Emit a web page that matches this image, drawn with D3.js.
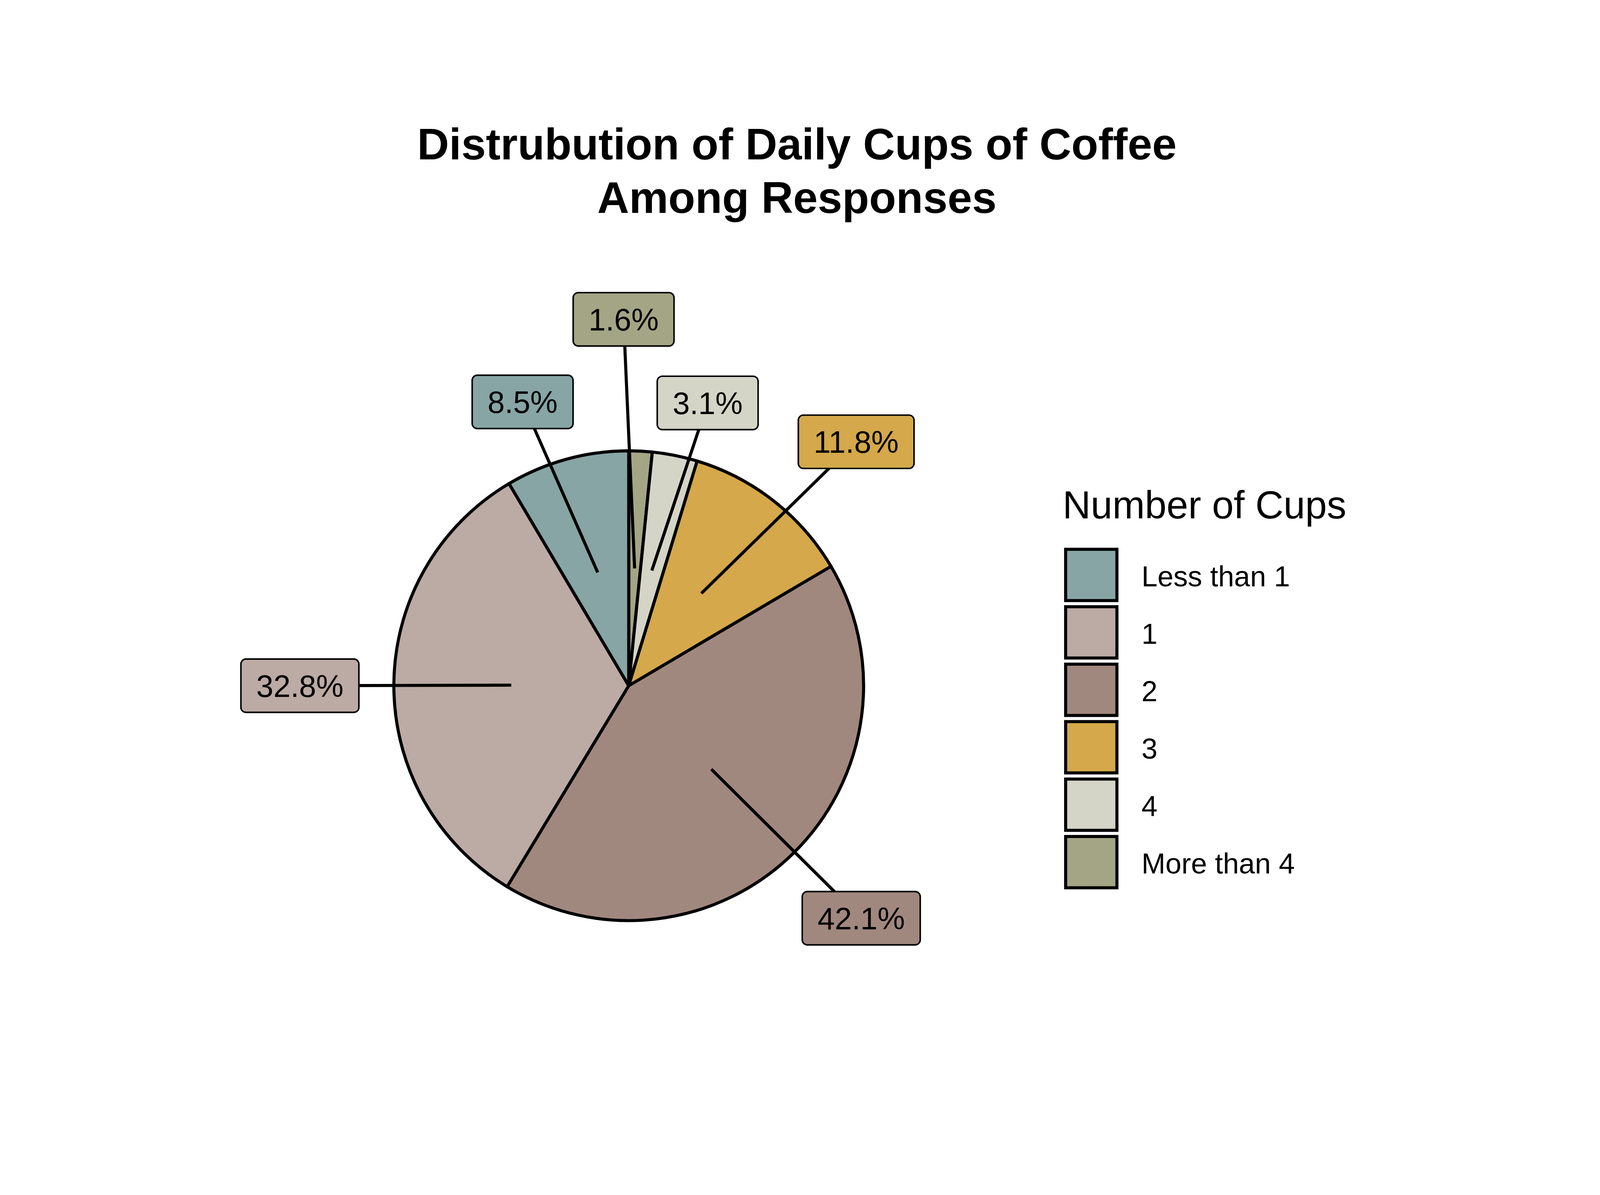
<!DOCTYPE html>
<html>
<head>
<meta charset="utf-8">
<script src="https://cdn.jsdelivr.net/npm/d3@7"></script>
<style>
  html, body { margin: 0; padding: 0; background: #fff; overflow: hidden; }
  svg { display: block; width: 100vw; height: 100vh; }
  text { font-family: "Liberation Sans", Arial, sans-serif; }
</style>
</head>
<body>
<svg id="chart" viewBox="0 0 1560 964" preserveAspectRatio="xMidYMid meet"></svg>
<script>
// data
let categories = ["Less than 1", "1", "2", "3", "4", "More than 4"];
let shares = [8.5, 32.8, 42.1, 11.8, 3.1, 1.6];
let colors = ["#87a5a5", "#bcaaa4", "#a1887f", "#d4a84b", "#d5d5c7", "#a3a585"];
// label placement (repelled labels): angle in degrees from top, distance in radii
let labelAngle = [339.5, 270, 135, 43, 15.6, 359.2];
let labelDist = [1.29, 1.4, 1.4, 1.42, 1.25, 1.56];

let svg = d3.select("#chart");
let cx = 613, cy = 568, r = 229;

// title
svg.append("text").attr("x", 777).attr("y", 55).attr("text-anchor", "middle")
  .attr("font-size", 43).attr("font-weight", "bold").text("Distrubution of Daily Cups of Coffee");
svg.append("text").attr("x", 777).attr("y", 107).attr("text-anchor", "middle")
  .attr("font-size", 43).attr("font-weight", "bold").text("Among Responses");

// pie goes clockwise from 12 o'clock, largest index first
let rows = categories.map((c, i) => ({cat: c, val: shares[i], i: i}));
let pie = d3.pie().sort(null).value(d => d.val);
let arcs = pie(rows.slice().reverse());
let arc = d3.arc().innerRadius(0).outerRadius(r);

let g = svg.append("g").attr("transform", `translate(${cx},${cy})`);
g.selectAll("path.slice").data(arcs).enter().append("path")
  .attr("d", arc)
  .attr("fill", d => colors[d.data.i])
  .attr("stroke", "#000").attr("stroke-width", 3).attr("stroke-linejoin", "round");

// leader lines and labels
arcs.forEach(d => {
  let i = d.data.i;
  let mid = (d.startAngle + d.endAngle) / 2;
  let x0 = Math.sin(mid) * r * 0.5, y0 = -Math.cos(mid) * r * 0.5;
  let a = labelAngle[i] * Math.PI / 180;
  let lx = Math.sin(a) * r * labelDist[i], ly = -Math.cos(a) * r * labelDist[i];
  g.append("line").attr("x1", x0).attr("y1", y0).attr("x2", lx).attr("y2", ly)
    .attr("stroke", "#000").attr("stroke-width", 3);
  let lab = g.append("g").attr("transform", `translate(${lx},${ly})`);
  let txt = d.data.val.toFixed(1) + "%";
  let t = lab.append("text").attr("text-anchor", "middle").attr("dy", "0.36em")
    .attr("font-size", 30).text(txt);
  let w = t.node().getComputedTextLength() + 30, h = 52;
  lab.insert("rect", "text").attr("x", -w / 2).attr("y", -h / 2).attr("width", w).attr("height", h)
    .attr("rx", 5).attr("fill", colors[i]).attr("stroke", "#000").attr("stroke-width", 1.5);
});

// legend
let lg = svg.append("g");
lg.append("text").attr("x", 1036).attr("y", 405).attr("font-size", 38).text("Number of Cups");
let ky = d3.scaleBand().domain(categories).range([433, 433 + 56 * categories.length]);
categories.forEach((c, i) => {
  lg.append("rect").attr("x", 1039).attr("y", ky(c) + 2).attr("width", 50).attr("height", 50)
    .attr("fill", colors[i]).attr("stroke", "#000").attr("stroke-width", 3);
  lg.append("text").attr("x", 1113).attr("y", ky(c) + 28).attr("dy", "0.36em")
    .attr("font-size", 28).text(c);
});
</script>
</body>
</html>
